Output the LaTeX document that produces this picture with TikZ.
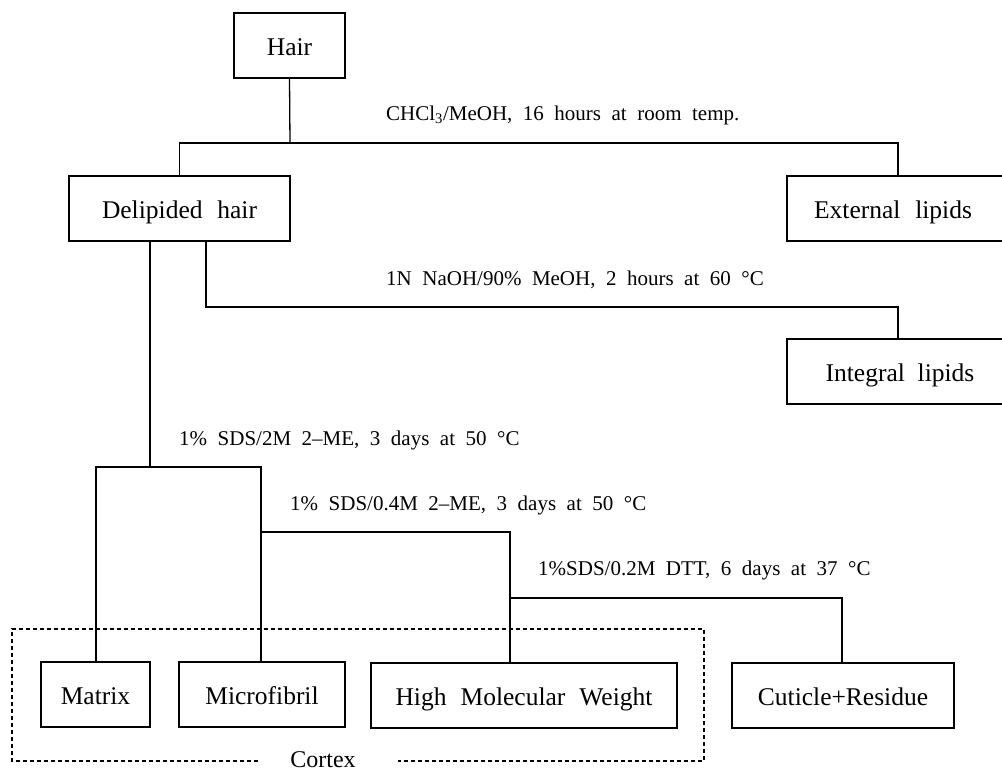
\documentclass[tikz,border=0pt]{standalone}
\usepackage{fontspec}
\setmainfont{Liberation Serif}[WordSpace=2]
\begin{document}
\begin{tikzpicture}[x=1pt,y=-1pt,
  box/.style={draw,line width=1.3pt,inner sep=0pt,minimum height=65pt,text height=19pt,text depth=0pt,font=\fontsize{25.5}{28}\selectfont},
  lab/.style={anchor=base west,inner sep=0pt,font=\fontsize{21}{24}\selectfont},
  conn/.style={line width=1.3pt},
  cortexline/.style={dashed,dash pattern=on 4pt off 3pt,line width=1.5pt}]
\useasboundingbox (0,0) rectangle (1002,771);
% boxes
\node[box,minimum width=111pt] (hair) at (289.5,45.5) {Hair};
\node[box,minimum width=221pt] (del) at (179.5,208.5) {Delipided\hspace{0.08em} hair};
\node[box,minimum width=226pt] (ext) at (900,208.5) {External\hspace{0.08em} lipids\hspace*{14pt}};
\node[box,minimum width=226pt] (int) at (900,371.5) {Integral lipids};
\node[box,minimum width=109pt] (mat) at (95.5,694.5) {Matrix};
\node[box,minimum width=166pt] (mic) at (262,694.5) {Microfibril};
\node[box,minimum width=306pt] (hmw) at (524,695.5) {High\hspace{0.05em} Molecular\hspace{0.05em} Weight};
\node[box,minimum width=222pt] (cut) at (843,695.5) {Cuticle+Residue};
% labels
\node[lab] (l1) at (386,120) {CHCl\textsubscript{3}/MeOH, 16 hours at room temp.};
\node[lab] (l2) at (386,285) {1N NaOH/90\% MeOH, 2 hours at 60 °C};
\node[lab] (l3) at (179,445) {1\% SDS/2M 2–ME, 3 days at 50 °C};
\node[lab] (l4) at (290,510) {1\% SDS/0.4M 2–ME, 3 days at 50 °C};
\node[lab] (l5) at (538,575) {1\%SDS/0.2M DTT, 6 days at 37 °C};
\node[anchor=base,inner sep=0pt,font=\fontsize{24}{26}\selectfont] (cx) at (323,767) {Cortex};
% junction coordinates
\coordinate (j1) at (290,143);
\coordinate (e1) at (898,143);
\coordinate (n0) at (206,307);
\coordinate (n1) at (898,307);
\coordinate (s0) at (150,467);
\coordinate (sl) at (96,467);
\coordinate (sr) at (261,467);
\coordinate (t1) at (510,532);
\coordinate (u0) at (510,598);
\coordinate (u1) at (842,598);
% connectors
\draw[conn] (hair.south) -- (j1);
\draw[conn] (del.north) |- (e1) -- (e1 |- ext.north);
\draw[conn] (n0 |- del.south) -- (n0) -- (n1) -- (n1 |- int.north);
\draw[conn] (s0 |- del.south) -- (s0);
\draw[conn] (sl |- mat.north) -- (sl) -- (sr) -- (sr |- mic.north);
\draw[conn] (sr |- t1) -- (t1) -- (t1 |- hmw.north);
\draw[conn] (u0) -- (u1) -- (u1 |- cut.north);
% cortex dashed frame
\coordinate (c0) at (258,761);
\coordinate (c1) at (12,629);
\coordinate (c2) at (704,761);
\coordinate (c3) at (398,761);
\draw[cortexline] (c0) -| (c1) -| (c2) -- (c3);
\end{tikzpicture}
\end{document}
